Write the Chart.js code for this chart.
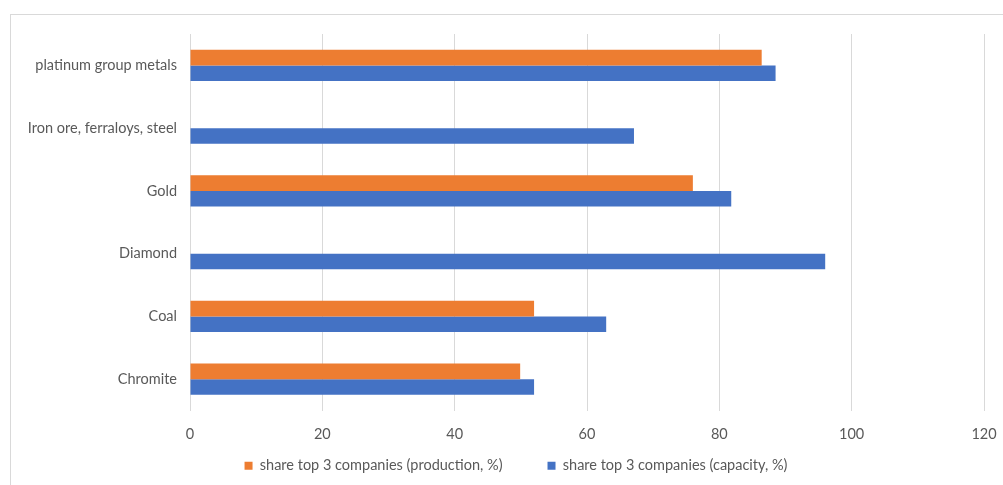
<!DOCTYPE html>
<html>
<head>
<meta charset="utf-8">
<script src="https://cdn.jsdelivr.net/npm/chart.js@4.4.0/dist/chart.umd.min.js"></script>
<style>
  html, body { margin: 0; padding: 0; background: #fff; overflow: hidden; }
  #frame { position: absolute; left: 10px; top: 14px; width: 1100px; height: 600px; border: 1px solid #d9d9d9; }
  #wrap { position: absolute; left: 0; top: 0; width: 1032px; height: 485px; }
</style>
</head>
<body>
<div id="frame"></div>
<div id="wrap"><canvas id="chart"></canvas></div>
<script>
const categories = ['platinum group metals', 'Iron ore, ferraloys, steel', 'Gold', 'Diamond', 'Coal', 'Chromite'];
const production = [86.4, null, 76.0, null, 52.0, 49.9];
const capacity = [88.5, 67.1, 81.8, 96.0, 62.9, 52.0];
const xTicks = [0, 20, 40, 60, 80, 100, 120];

Chart.defaults.font.family = 'Lato, "Open Sans", sans-serif';
Chart.defaults.font.size = 14.5;
Chart.defaults.color = '#595959';

// axis labels run outside their boxes here, so widen the clip areas after layout
const labelRoom = {
    id: 'labelRoom',
    afterLayout: function(chart) {
        chart.scales.x.bottom = chart.scales.x.top + 40;
        chart.scales.y.left = 0;
    }
};

new Chart(document.getElementById('chart'), {
    type: 'bar',
    data: {
        labels: categories,
        datasets: [{
            label: 'share top 3 companies (production, %)',
            data: production,
            backgroundColor: '#ED7D31'
        }, {
            label: 'share top 3 companies (capacity, %)',
            data: capacity,
            backgroundColor: '#4472C4'
        }]
    },
    options: {
        indexAxis: 'y',
        responsive: true,
        maintainAspectRatio: false,
        animation: false,
        layout: { padding: { top: 34, right: 48, left: 48, bottom: 2 } },
        datasets: { bar: { categoryPercentage: 0.5, barPercentage: 1.0 } },
        scales: {
            x: {
                min: 0,
                max: 120,
                afterBuildTicks: function(scale) {
                    scale.ticks = xTicks.map(v => ({ value: v }));
                },
                afterFit: function(scale) { scale.height = 3; },
                grid: { color: '#d9d9d9', drawTicks: false },
                border: { display: false },
                ticks: { padding: 15 }
            },
            y: {
                afterFit: function(scale) { scale.width = 142; },
                grid: { display: false },
                border: { color: '#d9d9d9' },
                ticks: { padding: 5 }
            }
        },
        plugins: {
            legend: {
                position: 'bottom',
                labels: { boxWidth: 8, boxHeight: 8, padding: 45 }
            },
            tooltip: { enabled: false }
        }
    },
    plugins: [labelRoom]
});
</script>
</body>
</html>
